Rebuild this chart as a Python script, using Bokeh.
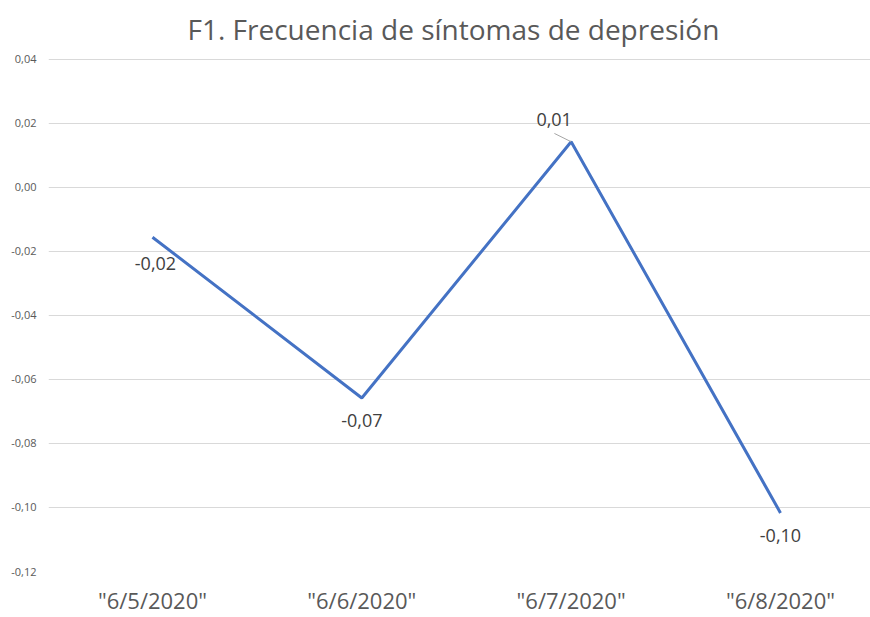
from bokeh.plotting import figure
from bokeh.models import Range1d, FixedTicker, ColumnDataSource, Title
from bokeh.core.properties import value
from bokeh.embed import file_html
from bokeh.resources import INLINE

categories = ['"6/5/2020"', '"6/6/2020"', '"6/7/2020"', '"6/8/2020"']
values = [-0.0156, -0.0658, 0.0142, -0.1017]
y_ticks = [-0.12, -0.10, -0.08, -0.06, -0.04, -0.02, 0.00, 0.02, 0.04]
y_tick_labels = ["-0,12", "-0,10", "-0,08", "-0,06", "-0,04", "-0,02", "0,00", "0,02", "0,04"]
data_labels = [f"{v:.2f}".replace(".", ",") for v in values]

FONT = "Open Sans"
xs = list(range(len(categories)))

p = figure(width=870, height=617, output_backend="svg", toolbar_location=None,
           x_range=Range1d(-0.4967, 3.43), y_range=Range1d(-0.12, 0.0402),
           min_border_left=48, min_border_right=0, min_border_top=57, min_border_bottom=45)
p.outline_line_color = None
p.background_fill_color = "white"
p.border_fill_color = "white"

t = Title(text="F1. Frecuencia de síntomas de depresión", text_font=FONT,
          text_font_size="28px", text_font_style="normal", text_color="#595959",
          align="left", offset=139, standoff=18, vertical_align="top")
p.add_layout(t, "above")

p.xgrid.grid_line_color = None
p.ygrid.grid_line_color = "#d9d9d9"
p.ygrid.grid_line_width = 1
p.ygrid.ticker = FixedTicker(ticks=y_ticks)

p.yaxis.ticker = FixedTicker(ticks=y_ticks)
p.yaxis.major_label_overrides = {t_: l for t_, l in zip(y_ticks, y_tick_labels)}
p.yaxis.axis_line_color = None
p.yaxis.major_tick_line_color = None
p.yaxis.minor_tick_line_color = None
p.yaxis.major_tick_out = 0
p.yaxis.major_tick_in = 0
p.yaxis.major_label_text_font = FONT
p.yaxis.major_label_text_font_size = "11px"
p.yaxis.major_label_text_color = "#595959"
p.yaxis.major_label_standoff = 12

p.xaxis.ticker = FixedTicker(ticks=xs)
p.xaxis.major_label_overrides = {i: c for i, c in enumerate(categories)}
p.xaxis.axis_line_color = None
p.xaxis.major_tick_line_color = None
p.xaxis.minor_tick_line_color = None
p.xaxis.major_tick_out = 0
p.xaxis.major_tick_in = 0
p.xaxis.major_label_text_font = FONT
p.xaxis.major_label_text_font_size = "22px"
p.xaxis.major_label_text_color = "#595959"
p.xaxis.major_label_standoff = 13

src = ColumnDataSource(dict(x=xs, y=values, lab=data_labels,
                            dx=[3, 0, -17, 0], dy=[26, 23, -22, 23]))
p.line("x", "y", source=src, line_color="#4472C4", line_width=3)

# leader line for the third label
p.segment(x0=[xs[2] - 0.08], y0=[values[2] + 0.0026], x1=[xs[2]], y1=[values[2]],
          line_color="#a6a6a6", line_width=1)

p.text("x", "y", text="lab", source=src, x_offset="dx", y_offset="dy",
       text_font=value(FONT), text_font_size="18px", text_color="#404040",
       text_align="center", text_baseline="middle")

open("out.html", "w").write(file_html(p, INLINE))
